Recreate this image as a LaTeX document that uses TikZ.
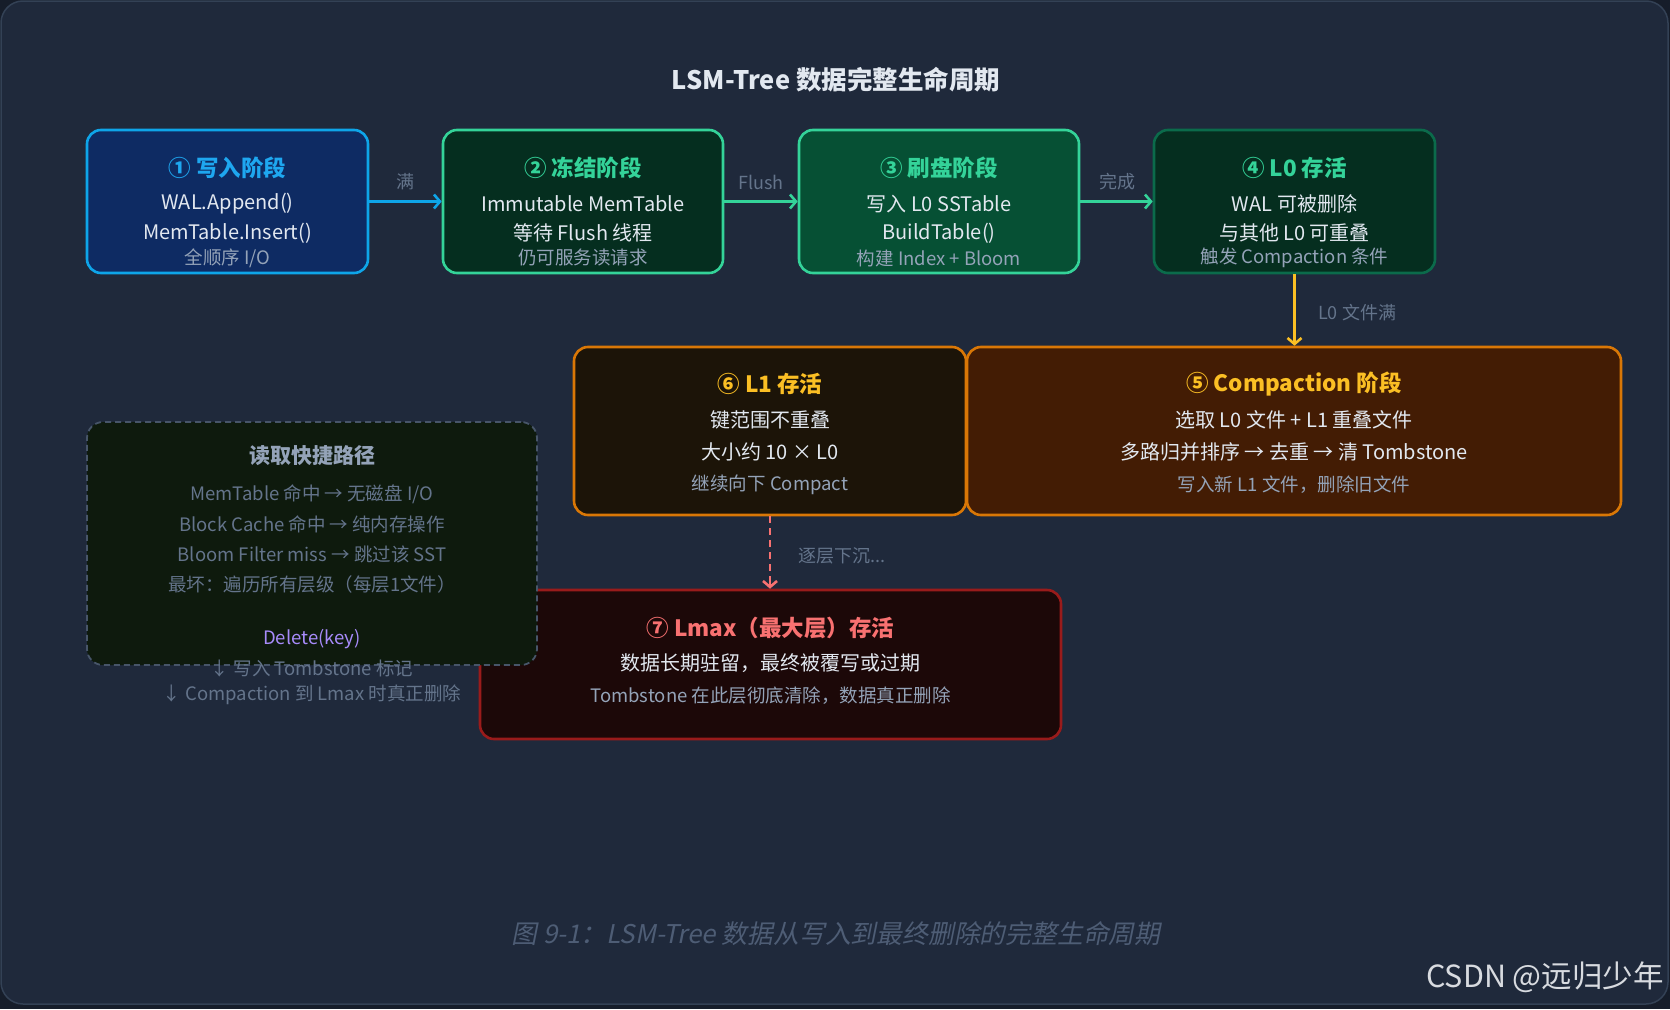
\documentclass[tikz,border=0pt]{standalone}
\usepackage{fontspec}
\setmainfont{Noto Sans CJK SC}
\newfontfamily\capfont[FakeSlant=0.2]{Noto Sans CJK SC}
\usetikzlibrary{arrows.meta}
\definecolor{pagebg}{HTML}{161D2A}
\definecolor{bg}{HTML}{1F293B}
\definecolor{bgline}{HTML}{334155}
\definecolor{txt}{HTML}{E2E8F0}
\definecolor{subtxt}{HTML}{94A3B8}
\definecolor{lbl}{HTML}{64748B}
\definecolor{capc}{HTML}{4E5D75}
\definecolor{bluefill}{HTML}{0E2B63}
\definecolor{blueline}{HTML}{0EA5E9}
\definecolor{bluetitle}{HTML}{1EA7F0}
\definecolor{grnA}{HTML}{052E1F}
\definecolor{grnB}{HTML}{065034}
\definecolor{grnline}{HTML}{34D399}
\definecolor{grnline2}{HTML}{0B6B4B}
\definecolor{grntitle}{HTML}{34D399}
\definecolor{orfill}{HTML}{431C04}
\definecolor{orfill2}{HTML}{1C1408}
\definecolor{orline}{HTML}{D97706}
\definecolor{ortitle}{HTML}{FBBF24}
\definecolor{redfill}{HTML}{1C0808}
\definecolor{redline}{HTML}{991B1B}
\definecolor{redtitle}{HTML}{F87171}
\definecolor{rdfill}{HTML}{0E1A0D}
\definecolor{rdline}{HTML}{475569}
\definecolor{purp}{HTML}{A78BFA}
\definecolor{wm}{HTML}{D8DBE0}
\tikzset{
  stagebox/.style={rectangle, rounded corners=14pt, line width=2.6pt, inner sep=0pt},
  ttl/.style={font=\fontsize{22.5}{26}\selectfont\bfseries, inner sep=0pt},
  bdy/.style={font=\fontsize{20}{24}\selectfont, text=txt, inner sep=0pt},
  sub/.style={font=\fontsize{18.5}{22}\selectfont, text=subtxt, inner sep=0pt},
  lab/.style={font=\fontsize{18}{21}\selectfont, text=lbl, inner sep=0pt},
  rdl/.style={font=\fontsize{18.5}{22}\selectfont, text=lbl, inner sep=0pt},
  flow/.style={line width=2.6pt, -{Straight Barb[length=6pt,width=14pt,line width=2.6pt]}},
}
\begin{document}
\begin{tikzpicture}[x=1pt,y=-1pt]
\useasboundingbox (0,0) rectangle (1670,1009);
\fill[pagebg] (0,0) rectangle (1670,1009);
\draw[bgline, fill=bg, line width=1.5pt, rounded corners=22pt] (1,1) rectangle (1668,1004);

% title
\node[font=\fontsize{25.5}{30}\selectfont\bfseries, text=txt, inner sep=0pt] (title) at (836,80) {LSM-Tree 数据完整生命周期};

% stage boxes row 1
\node[stagebox, draw=blueline, fill=bluefill, minimum width=281pt, minimum height=143pt] (b1) at (227.5,201.5) {};
\node[stagebox, draw=grnline, fill=grnA, minimum width=280pt, minimum height=143pt] (b2) at (583,201.5) {};
\node[stagebox, draw=grnline, fill=grnB, minimum width=280pt, minimum height=143pt] (b3) at (939,201.5) {};
\node[stagebox, draw=grnline2, fill=grnA, minimum width=281pt, minimum height=143pt] (b4) at (1294.5,201.5) {};

\node[ttl, text=bluetitle] (t1) at (227.5,168) {① 写入阶段};
\node[bdy] (t1a) at (227.5,204) {WAL.Append()};
\node[bdy] (t1b) at (227.5,233) {MemTable.Insert()};
\node[sub] (t1c) at (227.5,258) {全顺序 I/O};

\node[ttl, text=grntitle] (t2) at (583,168) {② 冻结阶段};
\node[bdy] (t2a) at (583,204) {Immutable MemTable};
\node[bdy] (t2b) at (583,233) {等待 Flush 线程};
\node[sub] (t2c) at (583,258) {仍可服务读请求};

\node[ttl, text=grntitle] (t3) at (939,168) {③ 刷盘阶段};
\node[bdy] (t3a) at (939,204) {写入 L0 SSTable};
\node[bdy] (t3b) at (939,233) {BuildTable()};
\node[sub] (t3c) at (939,258) {构建 Index + Bloom};

\node[ttl, text=grntitle] (t4) at (1294.5,168) {④ L0 存活};
\node[bdy] (t4a) at (1294.5,204) {WAL 可被删除};
\node[bdy] (t4b) at (1294.5,233) {与其他 L0 可重叠};
\node[sub] (t4c) at (1294.5,258) {触发 Compaction 条件};

% arrows row 1
\draw[flow, blueline] (b1.east) -- (b2.west);
\draw[flow, grnline] (b2.east) -- (b3.west);
\draw[flow, grnline] (b3.east) -- (b4.west);
\node[lab] (l1) at (405,182) {满};
\node[lab] (l2) at (761,182) {Flush};
\node[lab] (l3) at (1117,182) {完成};

% row 2
\node[stagebox, draw=orline, fill=orfill2, minimum width=392pt, minimum height=168pt] (b6) at (770,431) {};
\node[stagebox, draw=orline, fill=orfill, minimum width=654pt, minimum height=168pt] (b5) at (1294,431) {};

\draw[flow, ortitle] (b4.south) -- (b4.south |- b5.north);
\node[lab, anchor=west] (l4) at (1318,313) {L0 文件满};

\node[ttl, text=ortitle] (t5) at (1294,384) {⑤ Compaction 阶段};
\node[bdy] (t5a) at (1294,420) {选取 L0 文件 + L1 重叠文件};
\node[bdy] (t5b) at (1294,452) {多路归并排序 → 去重 → 清 Tombstone};
\node[sub] (t5c) at (1294,485) {写入新 L1 文件，删除旧文件};

\node[ttl, text=ortitle] (t6) at (770,384) {⑥ L1 存活};
\node[bdy] (t6a) at (770,420) {键范围不重叠};
\node[bdy] (t6b) at (770,452) {大小约 10 × L0};
\node[sub] (t6c) at (770,485) {继续向下 Compact};

% row 3
\node[stagebox, draw=redline, fill=redfill, minimum width=581pt, minimum height=149pt] (b7) at (770.5,664.5) {};
\coordinate (dk) at ([yshift=10pt]b6.south |- b7.north);
\draw[line width=2.6pt, redtitle, dash pattern=on 7pt off 5pt] (b6.south) -- (dk);
\draw[line width=2.6pt, redtitle, -{Straight Barb[length=6pt,width=14pt,line width=2.6pt]}] (dk) -- (b6.south |- b7.north);
\node[lab, anchor=west] (l5) at (798,556) {逐层下沉...};

\node[ttl, text=redtitle] (t7) at (770.5,628) {⑦ Lmax（最大层）存活};
\node[bdy] (t7a) at (770.5,663) {数据长期驻留，最终被覆写或过期};
\node[sub] (t7b) at (770.5,696) {Tombstone 在此层彻底清除，数据真正删除};

% read path box
\node[rectangle, rounded corners=16pt, draw=rdline, fill=rdfill, line width=1.8pt, dash pattern=on 6pt off 4pt, minimum width=450pt, minimum height=243pt, inner sep=0pt] (rd) at (312,543.5) {};
\node[font=\fontsize{21}{25}\selectfont\bfseries, text=subtxt, inner sep=0pt] (rt) at (312,456) {读取快捷路径};
\node[rdl] (r1) at (312,494) {MemTable 命中 → 无磁盘 I/O};
\node[rdl] (r2) at (312,524) {Block Cache 命中 → 纯内存操作};
\node[rdl] (r3) at (312,554) {Bloom Filter miss → 跳过该 SST};
\node[rdl] (r4) at (312,584) {最坏：遍历所有层级（每层1文件）};
\node[rdl, text=purp] (r5) at (312,639) {Delete(key)};
\node[rdl] (r6) at (312,669) {↓ 写入 Tombstone 标记};
\node[rdl] (r7) at (312,695) {↓ Compaction 到 Lmax 时真正删除};

% caption & watermark
\node[font=\fontsize{25.8}{30}\capfont, text=capc, inner sep=0pt] (cap) at (836,934) {图 9-1：LSM-Tree 数据从写入到最终删除的完整生命周期};
\node[font=\fontsize{30.5}{35}\selectfont, text=wm, anchor=east, inner sep=0pt] (wmk) at (1664,977) {CSDN @远归少年};
\end{tikzpicture}
\end{document}
